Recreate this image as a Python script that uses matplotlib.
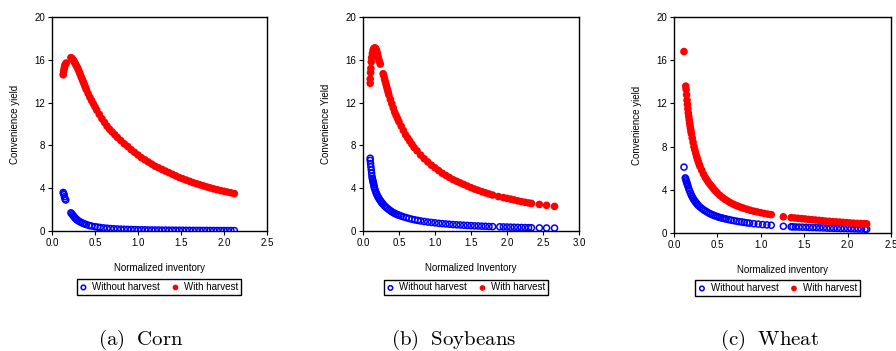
import matplotlib
matplotlib.use("Agg")
import matplotlib.pyplot as plt

plt.rcParams['font.family'] = ['Liberation Sans', 'DejaVu Sans']
plt.rcParams['mathtext.fontset'] = 'cm'

# ---------------- Corn ----------------
corn_red_x = [0.130, 0.135, 0.140, 0.145, 0.150, 0.160, 0.165,
              0.22, 0.23, 0.24, 0.25, 0.26, 0.27, 0.28, 0.29, 0.30, 0.31, 0.32, 0.33, 0.34,
              0.35, 0.36, 0.37, 0.38, 0.39, 0.40, 0.42, 0.44, 0.46, 0.48, 0.50, 0.52, 0.55,
              0.58, 0.61, 0.64, 0.67, 0.70, 0.73, 0.76, 0.80, 0.84, 0.88, 0.92, 0.96, 1.00,
              1.04, 1.08, 1.12, 1.16, 1.20, 1.24, 1.28, 1.32, 1.36, 1.40, 1.44, 1.48, 1.52,
              1.56, 1.60, 1.64, 1.68, 1.72, 1.76, 1.80, 1.84, 1.88, 1.92, 1.96, 2.00, 2.04,
              2.08, 2.12]
corn_red_y = [14.6, 14.9, 15.1, 15.3, 15.5, 15.6, 15.7,
              16.2, 16.15, 16.05, 15.95, 15.8, 15.65, 15.5, 15.35, 15.2, 15.0, 14.8, 14.6, 14.4,
              14.2, 14.0, 13.8, 13.6, 13.4, 13.2, 12.85, 12.5, 12.2, 11.9, 11.6, 11.3, 10.9,
              10.5, 10.15, 9.8, 9.5, 9.25, 9.0, 8.75, 8.45, 8.15, 7.9, 7.6, 7.35, 7.1,
              6.85, 6.65, 6.45, 6.25, 6.05, 5.9, 5.75, 5.6, 5.45, 5.3, 5.15, 5.0, 4.88,
              4.76, 4.64, 4.52, 4.42, 4.32, 4.22, 4.12, 4.03, 3.94, 3.86, 3.78, 3.71, 3.64,
              3.57, 3.5]
corn_blue_x = [0.130, 0.135, 0.140, 0.145, 0.150, 0.160,
               0.22, 0.23, 0.24, 0.25, 0.26, 0.27, 0.28, 0.29, 0.30, 0.32, 0.34, 0.36, 0.38,
               0.40, 0.43, 0.46, 0.50, 0.53, 0.56, 0.60, 0.64, 0.68, 0.72, 0.76, 0.80, 0.84,
               0.88, 0.92, 0.96, 1.00, 1.04, 1.08, 1.12, 1.16, 1.20, 1.24, 1.28, 1.32, 1.36,
               1.40, 1.44, 1.48, 1.52, 1.56, 1.60, 1.64, 1.68, 1.72, 1.76, 1.80, 1.84, 1.88,
               1.92, 1.96, 2.00, 2.04, 2.08, 2.12]
corn_blue_y = [3.6, 3.5, 3.4, 3.2, 3.0, 2.9,
               1.7, 1.6, 1.5, 1.4, 1.3, 1.2, 1.12, 1.05, 0.98, 0.88, 0.8, 0.72, 0.65,
               0.6, 0.52, 0.46, 0.4, 0.36, 0.33, 0.29, 0.26, 0.23, 0.21, 0.19, 0.17, 0.16,
               0.15, 0.14, 0.13, 0.12, 0.115, 0.11, 0.1, 0.097, 0.093, 0.09, 0.085, 0.08, 0.078,
               0.075, 0.072, 0.07, 0.067, 0.064, 0.062, 0.06, 0.058, 0.056, 0.054, 0.052, 0.05, 0.048,
               0.046, 0.045, 0.044, 0.043, 0.042, 0.04]

# ---------------- Soybeans ----------------
soy_red_x = [0.100, 0.100, 0.105, 0.110, 0.115, 0.120, 0.130, 0.140, 0.150, 0.160, 0.170,
             0.180, 0.190, 0.200, 0.210, 0.220, 0.230, 0.240,
             0.28, 0.29, 0.30, 0.31, 0.32, 0.33, 0.34, 0.35, 0.36, 0.38, 0.40, 0.42, 0.44,
             0.46, 0.48, 0.50, 0.53, 0.56, 0.59, 0.62, 0.65, 0.68, 0.71, 0.75, 0.80, 0.85,
             0.90, 0.95, 1.00, 1.05, 1.10, 1.15, 1.20, 1.25, 1.30, 1.35, 1.40, 1.45, 1.50,
             1.55, 1.60, 1.65, 1.70, 1.75, 1.80, 1.88, 1.95, 2.00, 2.05, 2.10, 2.15, 2.20,
             2.25, 2.30, 2.34, 2.45, 2.55, 2.66]
soy_red_y = [13.8, 14.2, 14.8, 15.2, 15.8, 16.2, 16.6, 16.9, 17.05, 17.1, 17.1,
             17.0, 16.85, 16.6, 16.3, 16.0, 15.8, 15.6,
             14.7, 14.5, 14.2, 13.95, 13.7, 13.45, 13.2, 12.95, 12.7, 12.3, 11.9, 11.5, 11.1,
             10.8, 10.5, 10.2, 9.8, 9.4, 9.0, 8.7, 8.4, 8.1, 7.8, 7.5, 7.1, 6.75,
             6.45, 6.15, 5.9, 5.65, 5.4, 5.2, 5.0, 4.8, 4.65, 4.5, 4.35, 4.2, 4.05,
             3.92, 3.8, 3.68, 3.57, 3.46, 3.36, 3.22, 3.12, 3.05, 2.98, 2.9, 2.82, 2.75,
             2.68, 2.62, 2.58, 2.48, 2.4, 2.3]
soy_blue_x = [0.100, 0.100, 0.105, 0.110, 0.115, 0.120, 0.125, 0.130, 0.135, 0.140, 0.145,
              0.150, 0.155, 0.160, 0.170, 0.180, 0.190, 0.200, 0.21, 0.22, 0.23, 0.24, 0.25,
              0.26, 0.27, 0.28, 0.30, 0.32, 0.34, 0.36, 0.38, 0.40, 0.42, 0.44, 0.46, 0.48,
              0.50, 0.53, 0.56, 0.60, 0.64, 0.68, 0.72, 0.76, 0.80, 0.85, 0.90, 0.95, 1.00,
              1.05, 1.10, 1.15, 1.20, 1.25, 1.30, 1.35, 1.40, 1.45, 1.50, 1.55, 1.60, 1.65,
              1.70, 1.75, 1.80, 1.90, 1.95, 2.00, 2.05, 2.10, 2.15, 2.20, 2.25, 2.30, 2.34,
              2.45, 2.55, 2.66]
soy_blue_y = [6.8, 6.6, 6.3, 6.0, 5.7, 5.4, 5.1, 4.9, 4.75, 4.6, 4.45,
              4.3, 4.15, 4.0, 3.8, 3.6, 3.45, 3.3, 3.17, 3.05, 2.95, 2.85, 2.75,
              2.65, 2.57, 2.5, 2.35, 2.22, 2.1, 2.0, 1.9, 1.8, 1.72, 1.65, 1.58, 1.52,
              1.47, 1.4, 1.33, 1.25, 1.17, 1.1, 1.04, 0.99, 0.94, 0.89, 0.84, 0.8, 0.76,
              0.72, 0.69, 0.66, 0.63, 0.6, 0.58, 0.56, 0.54, 0.52, 0.5, 0.48, 0.47, 0.45,
              0.44, 0.42, 0.41, 0.39, 0.38, 0.37, 0.36, 0.35, 0.34, 0.33, 0.32, 0.31, 0.3,
              0.29, 0.28, 0.27]

# ---------------- Wheat ----------------
wheat_red_x = [0.115, 0.135, 0.140, 0.145, 0.150, 0.155, 0.160, 0.165, 0.170, 0.175, 0.180,
               0.185, 0.190, 0.195, 0.20, 0.21, 0.22, 0.23, 0.24, 0.25, 0.26, 0.27, 0.28,
               0.29, 0.30, 0.32, 0.34, 0.36, 0.38, 0.40, 0.42, 0.44, 0.46, 0.48, 0.50,
               0.53, 0.56, 0.59, 0.62, 0.65, 0.68, 0.71, 0.74, 0.77, 0.80, 0.84, 0.88,
               0.92, 0.96, 1.00, 1.04, 1.08, 1.12, 1.26, 1.35, 1.39, 1.43, 1.47, 1.51,
               1.55, 1.59, 1.63, 1.67, 1.71, 1.75, 1.79, 1.83, 1.87, 1.91, 1.95, 1.99,
               2.03, 2.07, 2.11, 2.15, 2.19, 2.22]
wheat_red_y = [16.8, 13.6, 13.3, 12.8, 12.3, 11.9, 11.5, 11.1, 10.8, 10.5, 10.2,
               9.95, 9.7, 9.45, 9.2, 8.8, 8.4, 8.0, 7.7, 7.4, 7.1, 6.85, 6.6,
               6.37, 6.15, 5.8, 5.45, 5.15, 4.9, 4.65, 4.45, 4.25, 4.05, 3.87, 3.7,
               3.47, 3.28, 3.1, 2.95, 2.8, 2.68, 2.57, 2.47, 2.38, 2.3, 2.2, 2.1,
               2.02, 1.95, 1.88, 1.81, 1.75, 1.7, 1.5, 1.42, 1.39, 1.36, 1.33, 1.3,
               1.26, 1.23, 1.2, 1.17, 1.14, 1.1, 1.08, 1.05, 1.03, 1.01, 0.98, 0.96,
               0.93, 0.91, 0.89, 0.88, 0.86, 0.85]
wheat_blue_x = [0.115, 0.130, 0.135, 0.140, 0.145, 0.150, 0.155, 0.160, 0.170, 0.180, 0.190,
                0.200, 0.21, 0.22, 0.23, 0.24, 0.25, 0.26, 0.27, 0.28, 0.30, 0.32, 0.34,
                0.36, 0.38, 0.40, 0.42, 0.44, 0.46, 0.48, 0.50, 0.52, 0.54, 0.56, 0.58,
                0.60, 0.63, 0.66, 0.69, 0.72, 0.75, 0.78, 0.81, 0.84, 0.87, 0.92, 0.97,
                1.02, 1.07, 1.12, 1.26, 1.35, 1.37, 1.40, 1.44, 1.48, 1.52, 1.56, 1.60,
                1.64, 1.68, 1.72, 1.76, 1.80, 1.84, 1.88, 1.92, 1.96, 2.00, 2.04, 2.08,
                2.12, 2.16, 2.20, 2.22]
wheat_blue_y = [6.1, 5.1, 5.0, 4.85, 4.72, 4.6, 4.47, 4.35, 4.1, 3.9, 3.7,
                3.5, 3.35, 3.2, 3.07, 2.95, 2.85, 2.75, 2.65, 2.55, 2.4, 2.27, 2.15,
                2.05, 1.95, 1.85, 1.77, 1.7, 1.63, 1.57, 1.51, 1.46, 1.41, 1.37, 1.33,
                1.3, 1.24, 1.19, 1.14, 1.1, 1.05, 1.02, 0.98, 0.94, 0.91, 0.86, 0.82,
                0.78, 0.75, 0.72, 0.62, 0.58, 0.57, 0.56, 0.55, 0.54, 0.53, 0.51, 0.5,
                0.49, 0.48, 0.47, 0.45, 0.44, 0.43, 0.42, 0.41, 0.41, 0.4, 0.39, 0.38,
                0.37, 0.36, 0.35, 0.35]

panels = [
    dict(rx=corn_red_x, ry=corn_red_y, bx=corn_blue_x, by=corn_blue_y,
         xmax=2.5, xticks=[0.0, 0.5, 1.0, 1.5, 2.0, 2.5],
         xlabel="Normalized inventory", ylabel="Convenience yield",
         caption=r"$\mathrm{(a)\ \ Corn}$",
         pos=[52, 17, 267, 231], leg=(159, 287), cap_x=141),
    dict(rx=soy_red_x, ry=soy_red_y, bx=soy_blue_x, by=soy_blue_y,
         xmax=3.0, xticks=[0.0, 0.5, 1.0, 1.5, 2.0, 2.5, 3.0],
         xlabel="Normalized Inventory", ylabel="Convenience Yield",
         caption=r"$\mathrm{(b)\ \ Soybeans}$",
         pos=[363, 17, 579, 231], leg=(466, 287.5), cap_x=454),
    dict(rx=wheat_red_x, ry=wheat_red_y, bx=wheat_blue_x, by=wheat_blue_y,
         xmax=2.5, xticks=[0.0, 0.5, 1.0, 1.5, 2.0, 2.5],
         xlabel="Normalized inventory", ylabel="Convenience yield",
         caption=r"$\mathrm{(c)\ \ Wheat}$",
         pos=[674, 17, 891, 233], leg=(777.5, 288), cap_x=770),
]

W, H = 896, 351
fig = plt.figure(figsize=(W / 100, H / 100), dpi=100)
fig.patch.set_facecolor('white')

for p in panels:
    l, t, r, b = p['pos']
    ax = fig.add_axes([l / W, 1 - b / H, (r - l) / W, (b - t) / H])
    hb = ax.scatter(p['bx'], p['by'], s=19, facecolors='none', edgecolors='#0000ff',
                    linewidths=1.1, label='Without harvest', zorder=2)
    hr = ax.scatter(p['rx'], p['ry'], s=30, color='#ff0000', edgecolors='none',
                    label='With harvest', zorder=3)
    ax.set_xlim(0, p['xmax'])
    ax.set_ylim(0, 20)
    ax.set_xticks(p['xticks'])
    ax.set_xticklabels([f"{v:.1f}" for v in p['xticks']])
    ax.set_yticks([0, 4, 8, 12, 16, 20])
    ax.tick_params(direction='out', length=3, width=0.8, labelsize=7, pad=2)
    for s in ax.spines.values():
        s.set_linewidth(1.0)
    ax.set_xlabel(p['xlabel'], fontsize=7, labelpad=11)
    ax.set_ylabel(p['ylabel'], fontsize=7, labelpad=10)
    lx, ly = p['leg']
    leg = fig.legend(handles=[hb, hr], loc='center',
                     bbox_to_anchor=(lx / W, 1 - ly / H), ncol=2, fontsize=7,
                     frameon=True, fancybox=False, edgecolor='black', framealpha=1,
                     handlelength=0.8, handletextpad=0.5, columnspacing=1.2,
                     borderpad=0.3, markerscale=0.75)
    leg.get_frame().set_linewidth(1.0)
    fig.text(p['cap_x'] / W, 1 - 344.5 / H, p['caption'], fontsize=15,
             ha='center', va='baseline')

fig.savefig('out.png', dpi=100)
